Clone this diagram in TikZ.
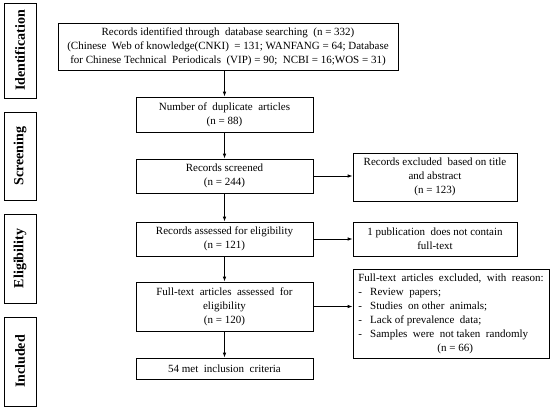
\documentclass[tikz,border=0pt]{standalone}
\usepackage{fontspec}
\setmainfont{Liberation Serif}
\usetikzlibrary{arrows.meta}
\begin{document}
\begin{tikzpicture}[x=1pt,y=-1pt,
  box/.style={draw,line width=0.75pt,align=center,inner sep=2pt,font=\fontsize{11}{14}\selectfont},
  phase/.style={draw,line width=0.9pt},
  ptext/.style={rotate=90,font=\bfseries\fontsize{14}{16}\selectfont},
  arr/.style={-{Latex[length=5pt,width=3.5pt]},line width=0.75pt}]
\useasboundingbox (0,0) rectangle (550,408);
% phase boxes
\node[phase,minimum width=32pt,minimum height=95pt] (p1) at (20,50.5) {};
\node[ptext] (p1t) at (p1.center) {Identification};
\node[phase,minimum width=32pt,minimum height=88pt] (p2) at (20,156) {};
\node[ptext] (p2t) at (p2.center) {Screening};
\node[phase,minimum width=32pt,minimum height=89pt] (p3) at (20,258.5) {};
\node[ptext] (p3t) at (p3.center) {Eligibility};
\node[phase,minimum width=32pt,minimum height=89pt] (p4) at (20,361.5) {};
\node[ptext] (p4t) at (p4.center) {Included};
% main boxes
\node[box,minimum width=340pt,minimum height=47pt] (a) at (228,46.5) {Records identified through\ \ database searching\ \ (n = 332)\\(Chinese\ \ Web of knowledge(CNKI)\ \ = 131; WANFANG = 64; Database\\for Chinese Technical\ \ Periodicals\ \ (VIP) = 90;\ \ NCBI = 16;WOS = 31)};
\node[box,minimum width=177pt,minimum height=35pt] (b) at (224.5,114.5) {Number of\ \ duplicate\ \ articles\\(n = 88)};
\node[box,minimum width=177pt,minimum height=34pt] (c) at (224.5,176) {Records screened\\(n = 244)};
\node[box,minimum width=177pt,minimum height=34pt] (d) at (224.5,239) {Records assessed for eligibility\\(n = 121)};
\node[box,minimum width=177pt,minimum height=49pt] (e) at (224.5,306.5) {Full-text\ \ articles\ \ assessed\ \ for\\eligibility\\(n = 120)};
\node[box,minimum width=177pt,minimum height=21pt] (f) at (224.5,368.5) {54 met\ \ inclusion\ \ criteria};
% right boxes
\node[box,minimum width=164pt,minimum height=48pt] (g) at (435,177) {Records excluded\ \ based on title\\and abstract\\(n = 123)};
\node[box,minimum width=164pt,minimum height=34pt] (h) at (435,239) {1 publication\ \ does not contain\\full-text};
\node[box,minimum width=196pt,minimum height=89pt,align=left] (i) at (451,313.5) {Full-text\ \ articles\ \ excluded,\ \ with\ \ reason:\\-\ \ \ Review\ \ papers;\\-\ \ \ Studies\ \ on other\ \ animals;\\-\ \ \ Lack of prevalence\ \ data;\\-\ \ \ Samples\ \ were\ \ not taken\ \ randomly\\\hspace*{7.2em}(n = 66)};
% arrows
\draw[arr] (a.south -| b.north) -- (b.north);
\draw[arr] (b) -- (c);
\draw[arr] (c) -- (d);
\draw[arr] (d) -- (e);
\draw[arr] (e) -- (f);
\draw[arr] (c.east) -- (c.east -| g.west);
\draw[arr] (d.east) -- (d.east -| h.west);
\draw[arr] (e.east) -- (e.east -| i.west);
\end{tikzpicture}
\end{document}
